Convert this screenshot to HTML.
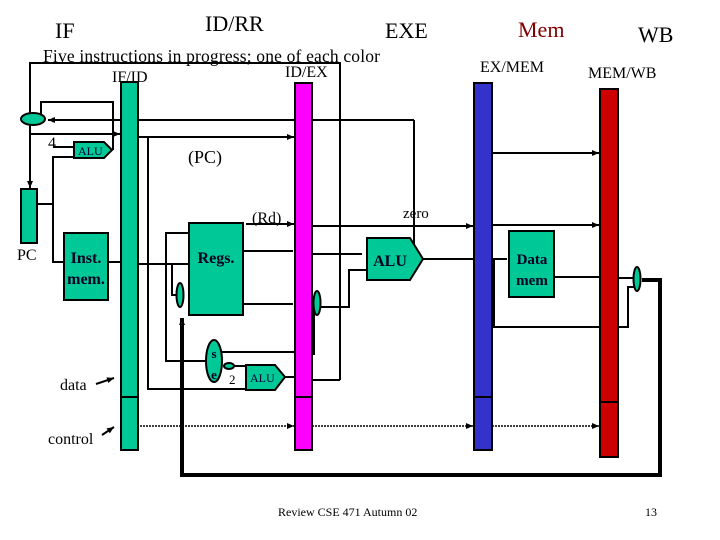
<!DOCTYPE html>
<html><head><style>body{margin:0;background:#fff}svg{display:block}text{font-family:"Liberation Serif",serif}</style></head><body>
<svg width="720" height="540" viewBox="0 0 720 540" xmlns="http://www.w3.org/2000/svg">
<defs><marker id="a" markerWidth="8" markerHeight="8" refX="7" refY="4" orient="auto" markerUnits="userSpaceOnUse"><path d="M0,1 L7,4 L0,7z" fill="#000"/></marker></defs>
<g font-size="22">
<text x="55" y="38">IF</text>
<text x="205" y="31">ID/RR</text>
<text x="385" y="38">EXE</text>
<text x="518" y="37" fill="#800000">Mem</text>
<text x="638" y="42">WB</text>
</g>
<text x="43" y="62" font-size="17.5" textLength="337">Five instructions in progress; one of each color</text>
<text x="112" y="82" font-size="16">IF/ID</text>
<text x="285" y="77" font-size="16">ID/EX</text>
<text x="480" y="72" font-size="16">EX/MEM</text>
<text x="588" y="78" font-size="16">MEM/WB</text>
<g stroke="#000" stroke-width="2" fill="none">
<polyline points="340,380 340,63 30,63 30,188" marker-end="url(#a)"/>
<line x1="312" y1="380" x2="340" y2="380"/>
<line x1="414" y1="120" x2="48" y2="120" marker-end="url(#a)"/>
<line x1="414" y1="120" x2="414" y2="250"/>
<polyline points="41,114 41,102 113,102 113,150"/>
<line x1="30" y1="134" x2="120" y2="134" marker-end="url(#a)"/>
<polyline points="53,147 74,147"/>
<polyline points="74,157 53,157 53,262 64,262"/>
<line x1="37" y1="204" x2="53" y2="204"/>
<line x1="108" y1="262" x2="121" y2="262"/>
<line x1="138" y1="137" x2="294" y2="137" marker-end="url(#a)"/>
<polyline points="148,137 148,389 246,389"/>
<polyline points="138,264 189,264"/>
<polyline points="189,233 166,233 166,361 206,361"/>
<polyline points="172,264 172,295 180,295"/>
<line x1="243" y1="251" x2="293" y2="251"/>
<line x1="243" y1="304" x2="293" y2="304"/>
<line x1="246" y1="224" x2="294" y2="224" marker-end="url(#a)"/>
<line x1="222" y1="352" x2="295" y2="352"/>
<line x1="229" y1="366" x2="246" y2="366"/>
<line x1="285" y1="377" x2="295" y2="377"/>
<line x1="312" y1="226" x2="473" y2="226" marker-end="url(#a)"/>
<line x1="312" y1="254" x2="362" y2="254"/>
<polyline points="367,270 349,270 349,307 321,307"/>
<polyline points="314,303 314,354 312,354"/>
<line x1="423" y1="259" x2="474" y2="259"/>
<line x1="492" y1="153" x2="599" y2="153" marker-end="url(#a)"/>
<line x1="492" y1="225" x2="599" y2="225" marker-end="url(#a)"/>
<polyline points="492,259 507,259"/>
<polyline points="494,259 494,327 600,327"/>
<line x1="554" y1="277" x2="600" y2="277"/>
<line x1="618" y1="278" x2="633" y2="278"/>
<polyline points="618,327 628,327 628,287 634,287"/>
<polyline points="642,280 660,280 660,475 182,475 182,318" stroke-width="4" marker-end="url(#a)"/>
<g stroke-dasharray="2,1" stroke-width="1.5">
<line x1="140" y1="426" x2="294" y2="426" marker-end="url(#a)"/>
<line x1="312" y1="426" x2="473" y2="426" marker-end="url(#a)"/>
<line x1="492" y1="426" x2="599" y2="426" marker-end="url(#a)"/>
</g>
<line x1="96" y1="384" x2="114" y2="378" marker-end="url(#a)"/>
<line x1="102" y1="435" x2="114" y2="427" marker-end="url(#a)"/>
</g>
<g stroke="#000" stroke-width="2">
<rect x="121" y="82" width="17" height="368" fill="#00c896"/>
<line x1="121" y1="397" x2="138" y2="397"/>
<rect x="295" y="83" width="17" height="367" fill="#ff00ff"/>
<line x1="295" y1="397" x2="312" y2="397"/>
<rect x="474" y="83" width="18" height="367" fill="#3333cc"/>
<line x1="474" y1="397" x2="492" y2="397"/>
<rect x="600" y="89" width="18" height="368" fill="#cc0000"/>
<line x1="600" y1="402" x2="618" y2="402"/>
<g fill="#00c896">
<ellipse cx="33" cy="119" rx="12" ry="6"/>
<polygon points="74,142 104,142 112,150 104,158 74,158"/>
<rect x="21" y="189" width="16" height="54"/>
<rect x="64" y="233" width="44" height="67"/>
<rect x="189" y="223" width="54" height="92"/>
<ellipse cx="180" cy="295" rx="3.5" ry="12"/>
<ellipse cx="214" cy="361" rx="8" ry="21"/>
<ellipse cx="229" cy="366" rx="5" ry="3"/>
<polygon points="246,365 275,365 285,377 275,390 246,390"/>
<polygon points="367,238 410,238 423,259 410,280 367,280"/>
<ellipse cx="317" cy="303" rx="3.5" ry="12"/>
<rect x="509" y="231" width="45" height="66"/>
<ellipse cx="637" cy="279" rx="3.5" ry="12"/>
</g>
</g>
<text x="48" y="148" font-size="16">4</text>
<text x="78" y="155" font-size="12" fill="#003">ALU</text>
<text x="188" y="163" font-size="18">(PC)</text>
<text x="17" y="260" font-size="16">PC</text>
<g fill="#002" font-weight="bold">
<text x="86" y="263" font-size="16" text-anchor="middle">Inst.</text>
<text x="86" y="284" font-size="16" text-anchor="middle">mem.</text>
<text x="216" y="263" font-size="16" text-anchor="middle">Regs.</text>
<text x="532" y="264" font-size="15" text-anchor="middle">Data</text>
<text x="532" y="285" font-size="15" text-anchor="middle">mem</text>
<text x="390" y="266" font-size="16" text-anchor="middle">ALU</text>
<text x="214" y="358" font-size="13" text-anchor="middle">s</text>
<text x="214" y="379" font-size="13" text-anchor="middle">e</text>
</g>
<text x="252" y="223" font-size="16">(Rd)</text>
<text x="403" y="218" font-size="15">zero</text>
<text x="229" y="384" font-size="13">2</text>
<text x="250" y="382" font-size="12" fill="#003">ALU</text>
<text x="60" y="390" font-size="16">data</text>
<text x="48" y="444" font-size="16">control</text>
<text x="278" y="516" font-size="12">Review CSE 471 Autumn 02</text>
<text x="645" y="516" font-size="12">13</text>
</svg>
</body></html>
